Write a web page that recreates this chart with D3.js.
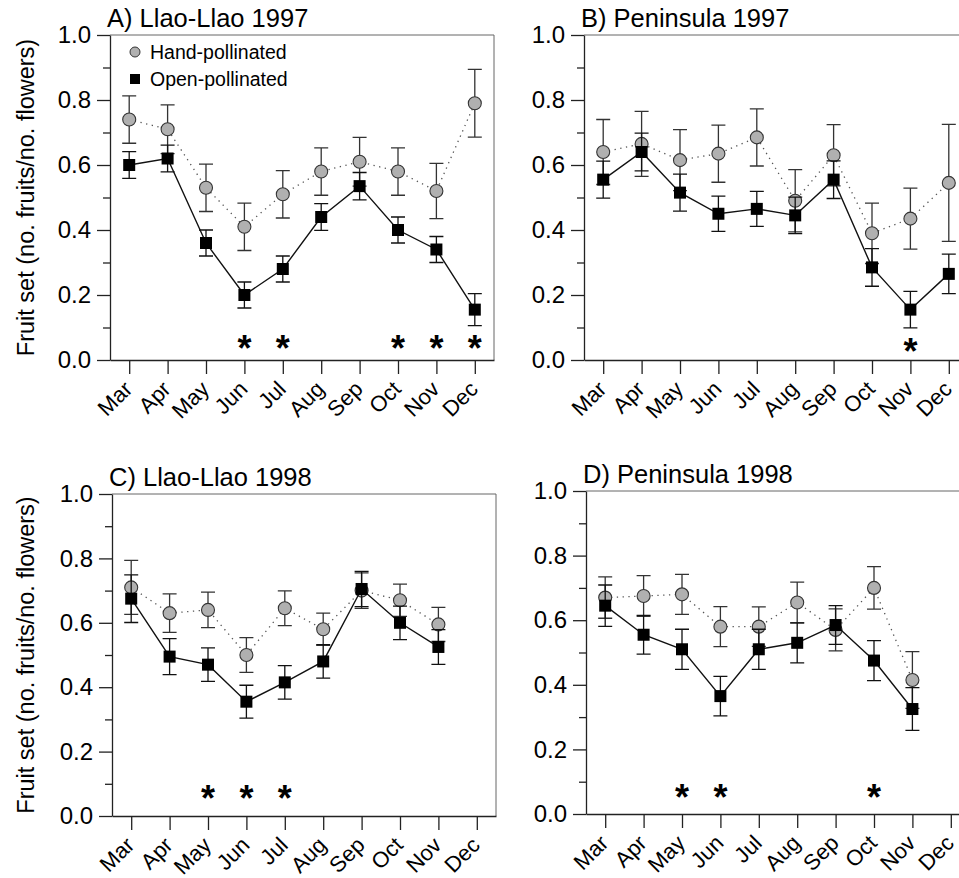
<!DOCTYPE html>
<html>
<head>
<meta charset="utf-8">
<script src="https://cdn.jsdelivr.net/npm/d3@7"></script>
<style>
  body { margin: 0; background: #fff; }
  text { font-family: "Liberation Sans", Arial, Helvetica, sans-serif; }
</style>
</head>
<body>
<div id="chart"></div>
<script>
var months = ["Mar", "Apr", "May", "Jun", "Jul", "Aug", "Sep", "Oct", "Nov", "Dec"];

// A) Llao-Llao 1997
var handA    = [0.74, 0.71, 0.53, 0.41, 0.51, 0.58, 0.61, 0.58, 0.52, 0.79];
var handAErr = [0.073, 0.075, 0.073, 0.073, 0.073, 0.073, 0.075, 0.073, 0.085, 0.104];
var openA    = [0.60, 0.62, 0.36, 0.20, 0.28, 0.44, 0.535, 0.40, 0.34, 0.155];
var openAErr = [0.041, 0.041, 0.04, 0.04, 0.04, 0.041, 0.042, 0.04, 0.04, 0.049];
var starsA   = ["Jun", "Jul", "Oct", "Nov", "Dec"];

// B) Peninsula 1997
var handB    = [0.64, 0.665, 0.615, 0.635, 0.685, 0.49, 0.63, 0.39, 0.435, 0.545];
var handBErr = [0.10, 0.10, 0.094, 0.088, 0.088, 0.096, 0.094, 0.093, 0.094, 0.18];
var openB    = [0.555, 0.64, 0.515, 0.45, 0.465, 0.445, 0.555, 0.285, 0.155, 0.265];
var openBErr = [0.057, 0.058, 0.057, 0.054, 0.054, 0.056, 0.058, 0.058, 0.056, 0.061];
var starsB   = ["Nov"];

// C) Llao-Llao 1998
var handC    = [0.71, 0.63, 0.64, 0.50, 0.645, 0.58, 0.70, 0.67, 0.595, null];
var handCErr = [0.084, 0.06, 0.055, 0.054, 0.054, 0.05, 0.055, 0.05, 0.053, null];
var openC    = [0.675, 0.495, 0.47, 0.355, 0.415, 0.48, 0.705, 0.60, 0.525, null];
var openCErr = [0.074, 0.056, 0.052, 0.051, 0.052, 0.052, 0.055, 0.052, 0.054, null];
var starsC   = ["May", "Jun", "Jul"];

// D) Peninsula 1998
var handD    = [0.67, 0.675, 0.68, 0.58, 0.58, 0.655, 0.57, 0.70, 0.415, null];
var handDErr = [0.064, 0.063, 0.062, 0.062, 0.061, 0.063, 0.065, 0.066, 0.088, null];
var openD    = [0.645, 0.555, 0.51, 0.365, 0.51, 0.53, 0.585, 0.475, 0.325, null];
var openDErr = [0.064, 0.06, 0.062, 0.061, 0.062, 0.062, 0.06, 0.062, 0.066, null];
var starsD   = ["May", "Jun", "Oct"];

var majorTicks = [0, 0.2, 0.4, 0.6, 0.8, 1.0];
var minorTicks = [0.1, 0.3, 0.5, 0.7, 0.9];

var panels = [
  {title: "A) Llao-Llao 1997", hand: handA, handErr: handAErr, open: openA, openErr: openAErr, stars: starsA, starLevel: 0.062, left: 110, top: 35, w: 384, h: 325, legend: true, ylab: true},
  {title: "B) Peninsula 1997", hand: handB, handErr: handBErr, open: openB, openErr: openBErr, stars: starsB, starLevel: 0.052, left: 584, top: 35, w: 384, h: 325},
  {title: "C) Llao-Llao 1998", hand: handC, handErr: handCErr, open: openC, openErr: openCErr, stars: starsC, starLevel: 0.08, left: 112, top: 494, w: 384, h: 322, ylab: true},
  {title: "D) Peninsula 1998", hand: handD, handErr: handDErr, open: openD, openErr: openDErr, stars: starsD, starLevel: 0.077, left: 586, top: 491, w: 384, h: 323}
];

var svg = d3.select("#chart").append("svg")
  .attr("width", 959)
  .attr("height", 878);

panels.forEach(function(p) {
  var g = svg.append("g").attr("transform", "translate(" + p.left + "," + p.top + ")");

  var x = d3.scalePoint().domain(months).range([0, p.w]).padding(0.5);
  var y = d3.scaleLinear().domain([0, 1]).range([p.h, 0]);

  // frame (top and right)
  g.append("path")
    .attr("d", "M0,0H" + p.w + "V" + p.h)
    .attr("fill", "none")
    .attr("stroke", "#666")
    .attr("stroke-width", 1);

  // y axis
  var ya = g.append("g")
    .call(d3.axisLeft(y).tickValues(majorTicks).tickFormat(d3.format(".1f")).tickSize(13).tickSizeOuter(0).tickPadding(6));
  ya.selectAll("text").style("font-size", "24px").attr("fill", "#000");
  ya.selectAll("line, path").attr("stroke", "#222").attr("stroke-width", 1.3);
  var ym = g.append("g")
    .call(d3.axisLeft(y).tickValues(minorTicks).tickFormat("").tickSize(7).tickSizeOuter(0));
  ym.selectAll("line").attr("stroke", "#222").attr("stroke-width", 1.3);
  ym.select(".domain").remove();

  // x axis
  var xa = g.append("g")
    .attr("transform", "translate(0," + p.h + ")")
    .call(d3.axisBottom(x).tickSize(14).tickSizeOuter(0).tickFormat(""));
  xa.selectAll("line, path").attr("stroke", "#222").attr("stroke-width", 1.3);

  g.selectAll(".mlab")
    .data(months).enter().append("text")
    .attr("class", "mlab")
    .attr("transform", function(d) { return "translate(" + (x(d) - 1) + "," + (p.h + 25) + ") rotate(-45)"; })
    .attr("text-anchor", "end")
    .attr("dy", "0.35em")
    .style("font-size", "22px")
    .text(function(d) { return d; });

  // title
  svg.append("text")
    .attr("x", p.left - 3)
    .attr("y", p.top - 8)
    .style("font-size", "25.5px")
    .text(p.title);

  if (p.ylab) {
    svg.append("text")
      .attr("transform", "translate(34," + (p.top + p.h / 2) + ") rotate(-90)")
      .attr("text-anchor", "middle")
      .style("font-size", "23.5px")
      .text("Fruit set (no. fruits/no. flowers)");
  }

  var hand = months.map(function(m, i) { return {m: m, v: p.hand[i], e: p.handErr[i]}; }).filter(function(d) { return d.v != null; });
  var open = months.map(function(m, i) { return {m: m, v: p.open[i], e: p.openErr[i]}; }).filter(function(d) { return d.v != null; });

  var line = d3.line().x(function(d) { return x(d.m); }).y(function(d) { return y(d.v); });

  // hand-pollinated: dotted line, error bars, grey circles
  g.append("path").datum(hand)
    .attr("d", line)
    .attr("fill", "none")
    .attr("stroke", "#555")
    .attr("stroke-width", 1.3)
    .attr("stroke-dasharray", "1.3,4.5");

  function errBars(data, color) {
    var eb = g.append("g").attr("stroke", color).attr("stroke-width", 1.3).attr("fill", "none");
    eb.selectAll("path").data(data).enter().append("path")
      .attr("d", function(d) {
        var cx = x(d.m), t = y(d.v + d.e), b = y(d.v - d.e), c = 7;
        return "M" + cx + "," + t + "V" + b +
          "M" + (cx - c) + "," + t + "H" + (cx + c) +
          "M" + (cx - c) + "," + b + "H" + (cx + c);
      });
  }

  errBars(hand, "#333");

  g.selectAll(".hand").data(hand).enter().append("circle")
    .attr("class", "hand")
    .attr("cx", function(d) { return x(d.m); })
    .attr("cy", function(d) { return y(d.v); })
    .attr("r", 6.5)
    .attr("fill", "#b0b0b0")
    .attr("stroke", "#333")
    .attr("stroke-width", 1.1);

  // open-pollinated: solid line, error bars, black squares
  g.append("path").datum(open)
    .attr("d", line)
    .attr("fill", "none")
    .attr("stroke", "#111")
    .attr("stroke-width", 1.4);

  errBars(open, "#111");

  g.selectAll(".open").data(open).enter().append("rect")
    .attr("class", "open")
    .attr("x", function(d) { return x(d.m) - 6; })
    .attr("y", function(d) { return y(d.v) - 6; })
    .attr("width", 12)
    .attr("height", 12)
    .attr("fill", "#000");

  // significance stars
  g.selectAll(".star").data(p.stars).enter().append("text")
    .attr("class", "star")
    .attr("x", function(d) { return x(d); })
    .attr("y", y(p.starLevel) + 21)
    .attr("text-anchor", "middle")
    .style("font-size", "36px")
    .style("font-weight", "bold")
    .text("*");

  if (p.legend) {
    var lg = g.append("g");
    lg.append("circle").attr("cx", 25).attr("cy", 17).attr("r", 5)
      .attr("fill", "#b0b0b0").attr("stroke", "#333").attr("stroke-width", 1);
    lg.append("text").attr("x", 40).attr("y", 24).style("font-size", "19.5px").text("Hand-pollinated");
    lg.append("rect").attr("x", 20).attr("y", 39).attr("width", 10).attr("height", 10).attr("fill", "#000");
    lg.append("text").attr("x", 40).attr("y", 51).style("font-size", "19.5px").text("Open-pollinated");
  }
});
</script>
</body>
</html>
